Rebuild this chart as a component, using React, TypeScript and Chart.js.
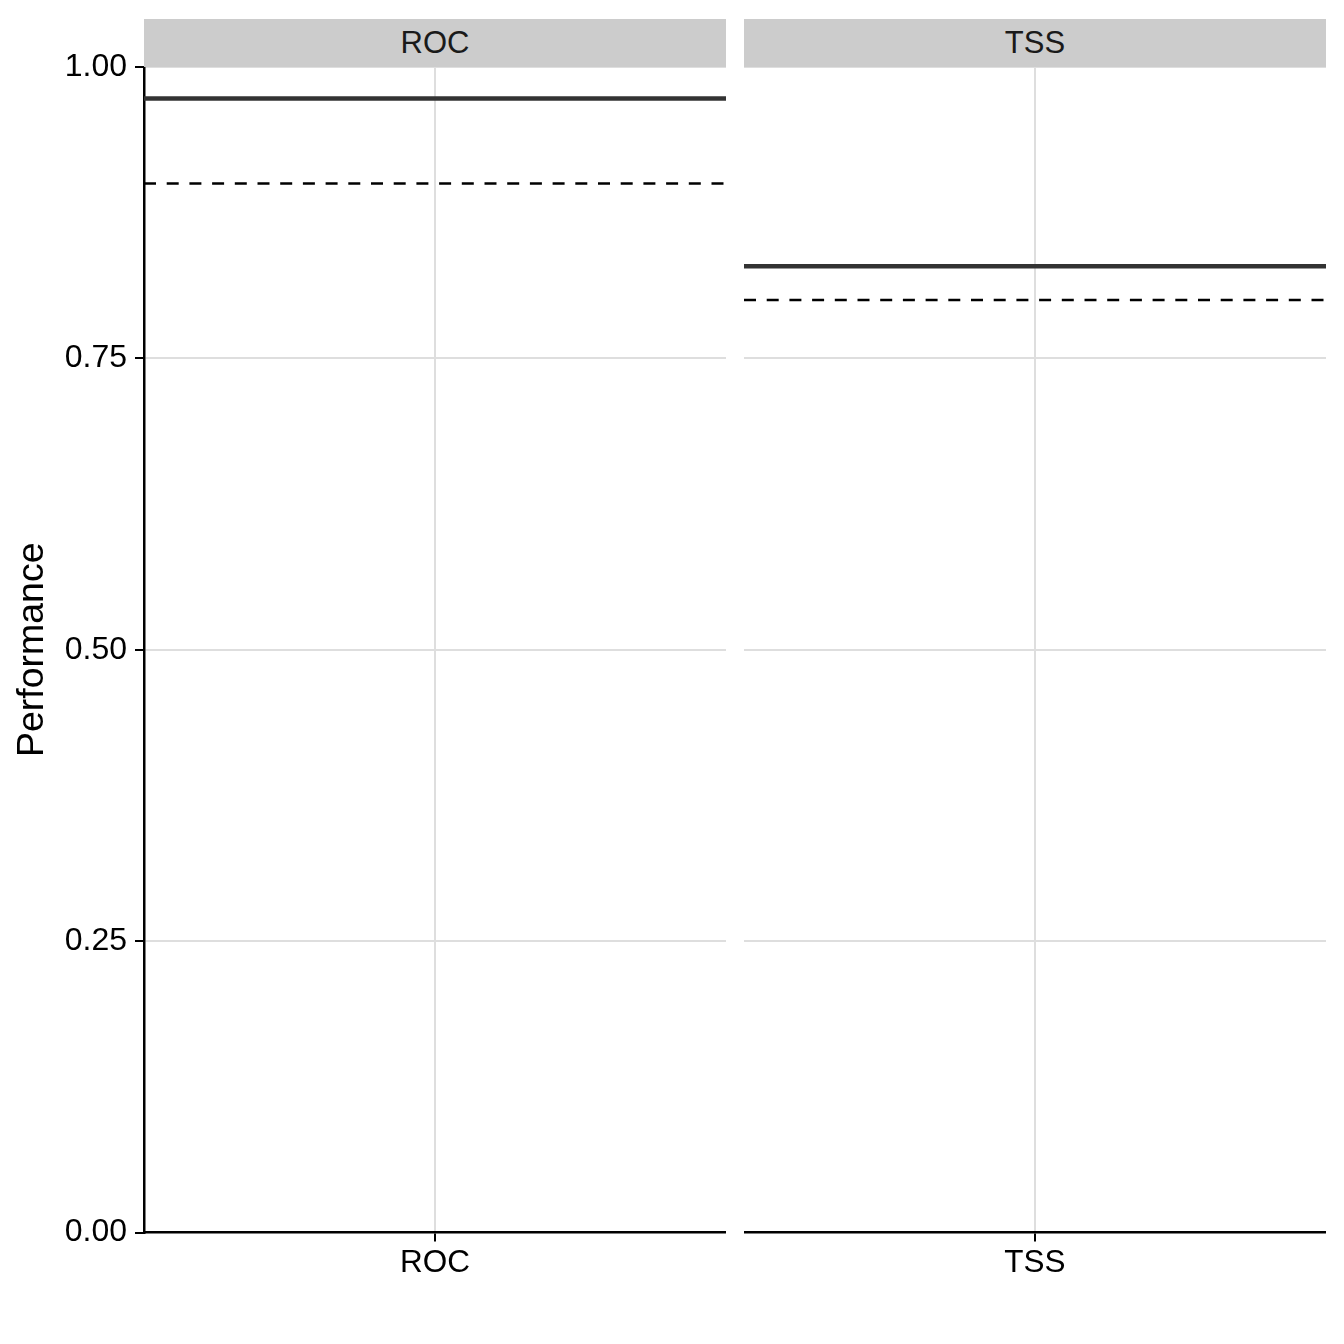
import { useEffect, useRef } from "react";
import { Chart, registerables } from "chart.js";

Chart.register(...registerables);

// facets and the two reference lines per facet
const metrics = ["ROC", "TSS"];
const scoreValues = [0.973, 0.829];
const cutoffValues = [0.9, 0.8];
const yTickValues = [0, 0.25, 0.5, 0.75, 1.0];
const yTitle = "Performance";

const FONT = "'Liberation Sans', Arial, Helvetica, sans-serif";
const GRID = "#DEDEDE";

interface PanelProps {
  index: number;
  showYAxis: boolean;
  width: number;
  axisWidth: number;
}

function FacetPanel({ index, showYAxis, width, axisWidth }: PanelProps) {
  const chartRef = useRef<HTMLCanvasElement>(null);

  useEffect(() => {
    if (!chartRef.current) return;
    const ctx = chartRef.current.getContext("2d") as CanvasRenderingContext2D;

    const chart = new Chart(ctx, {
      type: "line",
      data: {
        datasets: [
          {
            label: "score",
            data: [
              { x: 0, y: scoreValues[index] },
              { x: 2, y: scoreValues[index] },
            ],
            borderColor: "#333333",
            borderWidth: 4.5,
            pointRadius: 0,
            fill: false,
          },
          {
            label: "cutoff",
            data: [
              { x: 0, y: cutoffValues[index] },
              { x: 2, y: cutoffValues[index] },
            ],
            borderColor: "#000000",
            borderWidth: 2.5,
            borderDash: [12, 10.7],
            pointRadius: 0,
            fill: false,
          },
        ],
      },
      options: {
        animation: false,
        responsive: false,
        devicePixelRatio: 1,
        layout: { padding: { top: 67, left: 0, right: 0, bottom: 0 } },
        plugins: {
          legend: { display: false },
          tooltip: { enabled: false },
        },
        scales: {
          x: {
            type: "linear",
            min: 0,
            max: 2,
            afterBuildTicks: (axis: any) => {
              axis.ticks = [{ value: 1 }];
            },
            afterFit: (axis: any) => {
              axis.height = 111.5;
            },
            ticks: {
              callback: () => metrics[index],
              color: "#000",
              padding: 3,
              font: { family: FONT, size: 31.5 },
            },
            grid: {
              color: GRID,
              lineWidth: 2,
              tickColor: "#000",
              tickLength: 9,
              tickWidth: 2,
            },
            border: { display: true, color: "#000", width: 2.5 },
          },
          y: {
            type: "linear",
            min: 0,
            max: 1,
            afterBuildTicks: (axis: any) => {
              axis.ticks = yTickValues.map((v) => ({ value: v }));
            },
            afterFit: (axis: any) => {
              axis.width = axisWidth;
            },
            ticks: {
              display: showYAxis,
              callback: (v: any) => Number(v).toFixed(2),
              color: "#000",
              padding: 8,
              font: { family: FONT, size: 32 },
            },
            grid: {
              color: (c: any) => (c.tick && c.tick.value === 0 ? "rgba(0,0,0,0)" : GRID),
              lineWidth: 2,
              drawTicks: showYAxis,
              tickColor: "#000",
              tickLength: 9,
              tickWidth: 2,
            },
            border: { display: showYAxis, color: "#000", width: 2.5 },
            title: {
              display: showYAxis,
              text: yTitle,
              color: "#000",
              font: { family: FONT, size: 37.5, lineHeight: 1.2 },
              padding: { top: 10, bottom: 0 },
            },
          },
        },
      },
    });

    return () => {
      chart.destroy();
    };
  }, [index, showYAxis, axisWidth]);

  return <canvas ref={chartRef} width={width} height={1344} />;
}

function Strip({ label, left }: { label: string; left: number }) {
  return (
    <div
      style={{
        position: "absolute",
        left,
        top: 19,
        width: 582,
        height: 48,
        background: "#CCCCCC",
        color: "#1A1A1A",
        fontFamily: FONT,
        fontSize: 31,
        display: "flex",
        alignItems: "center",
        justifyContent: "center",
        zIndex: 2,
      }}
    >
      {label}
    </div>
  );
}

export default function App() {
  return (
    <div
      style={{
        position: "fixed",
        left: 0,
        top: 0,
        width: 1344,
        height: 1344,
        background: "#fff",
        overflow: "hidden",
      }}
    >
      <div style={{ position: "absolute", left: 0, top: 0 }}>
        <FacetPanel index={0} showYAxis={true} width={726} axisWidth={144} />
      </div>
      <div style={{ position: "absolute", left: 744, top: 0 }}>
        <FacetPanel index={1} showYAxis={false} width={582} axisWidth={0} />
      </div>
      <Strip label={metrics[0]} left={144} />
      <Strip label={metrics[1]} left={744} />
    </div>
  );
}
